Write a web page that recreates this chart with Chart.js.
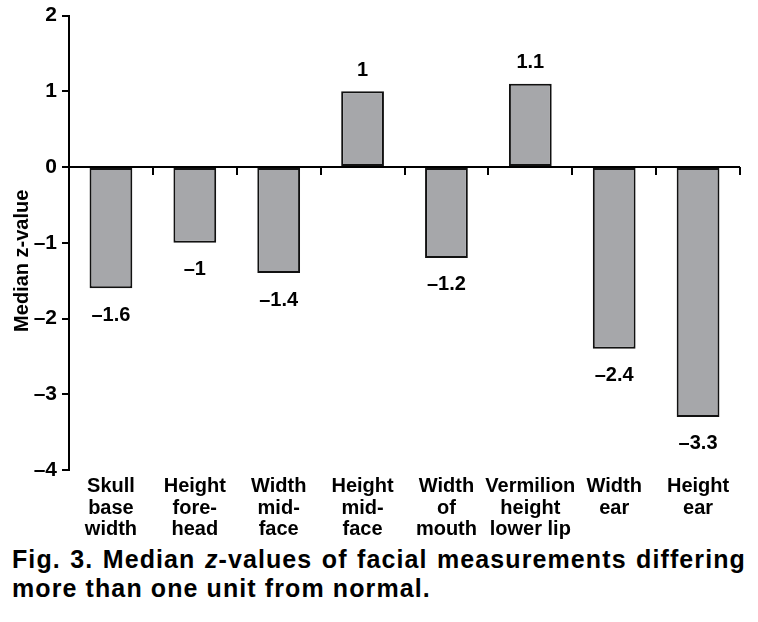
<!DOCTYPE html>
<html>
<head>
<meta charset="utf-8">
<style>
  body { margin: 0; background: #fff; }
  #wrap { position: relative; width: 758px; height: 622px; }
  #box { position: absolute; left: 0; top: 0; width: 758px; height: 545px; }
  #caption {
    position: absolute; left: 12px; top: 545px; width: 734px;
    font-family: "Liberation Sans", Arial, Helvetica, sans-serif;
    font-weight: bold; font-size: 25px; line-height: 29px; letter-spacing: 1.1px;
    text-align: justify; text-align-last: left; color: #000;
  }
</style>
</head>
<body>
<div id="wrap">
  <div id="box"><canvas id="myChart" width="758" height="545"></canvas></div>
  <div id="caption">Fig. 3. Median <i>z</i>-values of facial measurements differing more than one unit from normal.</div>
</div>
<script src="https://cdnjs.cloudflare.com/ajax/libs/Chart.js/4.4.1/chart.umd.min.js"></script>
<script>
  const categories = [
    ["Skull", "base", "width"],
    ["Height", "fore-", "head"],
    ["Width", "mid-", "face"],
    ["Height", "mid-", "face"],
    ["Width", "of", "mouth"],
    ["Vermilion", "height", "lower lip"],
    ["Width", "ear"],
    ["Height", "ear"],
  ];
  const medianZ = [-1.6, -1, -1.4, 1, -1.2, 1.1, -2.4, -3.3];
  const yTicks = [2, 1, 0, -1, -2, -3, -4];
  const yTitle = "Median z-value";

  const FONT = "'Liberation Sans', Arial, Helvetica, sans-serif";

  function fmt(v) {
    return v < 0 ? "\u2013" + Math.abs(v) : String(v);
  }

  // value labels above / below each bar, plus the y axis title
  const valueLabels = {
    id: "valueLabels",
    afterDatasetsDraw(chart) {
      const ctx = chart.ctx;
      const meta = chart.getDatasetMeta(0);
      ctx.save();
      ctx.font = "bold 20px " + FONT;
      ctx.fillStyle = "#000";
      ctx.textAlign = "center";
      ctx.textBaseline = "middle";
      meta.data.forEach((bar, i) => {
        const v = medianZ[i];
        const y = v < 0 ? bar.y + 27 : bar.y - 21;
        ctx.fillText(fmt(v), bar.x, y);
      });
      // axis title, a bit below the middle like the original
      const area = chart.chartArea;
      ctx.translate(22, (area.top + area.bottom) / 2 + 18);
      ctx.rotate(-Math.PI / 2);
      ctx.font = "bold 20px " + FONT;
      ctx.fillText(yTitle, 0, 0);
      ctx.restore();
    },
  };

  const ctx = document.getElementById("myChart").getContext("2d");
  const myChart = new Chart(ctx, {
    type: "bar",
    data: {
      labels: categories,
      datasets: [
        {
          data: medianZ,
          backgroundColor: "#a6a7aa",
          borderColor: "#111",
          borderWidth: 2,
          borderSkipped: false,
          barPercentage: 0.51,
          categoryPercentage: 1,
        },
      ],
    },
    options: {
      responsive: false,
      animation: false,
      layout: { padding: { top: 15, right: 18, left: 0, bottom: 0 } },
      plugins: { legend: { display: false }, tooltip: { enabled: false } },
      scales: {
        x: {
          position: "bottom",
          grid: { display: false },
          border: { display: false },
          ticks: {
            color: "#000",
            font: { family: FONT, size: 20, weight: "bold", lineHeight: 1.07 },
            padding: -2,
            autoSkip: false,
            maxRotation: 0,
            minRotation: 0,
          },
          afterFit(scale) { scale.height = 75; },
        },
        x2: {
          type: "category",
          labels: categories,
          position: { y: 0 },
          offset: true,
          grid: {
            offset: true,
            drawOnChartArea: false,
            drawTicks: true,
            tickLength: 8,
            color: "#000",
            lineWidth: 2,
          },
          border: { display: false },
          ticks: { display: false },
        },
        y: {
          min: -4,
          max: 2,
          afterBuildTicks(scale) { scale.ticks = yTicks.map(v => ({ value: v })); },
          grid: {
            color: (c) => (c.tick && c.tick.value === 0 ? "#000" : "rgba(0,0,0,0)"),
            tickColor: "#000",
            lineWidth: 2,
            tickLength: 7,
          },
          border: { display: true, color: "#000", width: 2 },
          ticks: {
            color: "#000",
            font: { family: FONT, size: 21, weight: "bold", lineHeight: 1 },
            padding: 5,
            callback: (v) => fmt(v),
          },
          title: { display: false },
          afterFit(scale) { scale.width = 69; },
        },
      },
    },
    plugins: [valueLabels],
  });
</script>
</body>
</html>
